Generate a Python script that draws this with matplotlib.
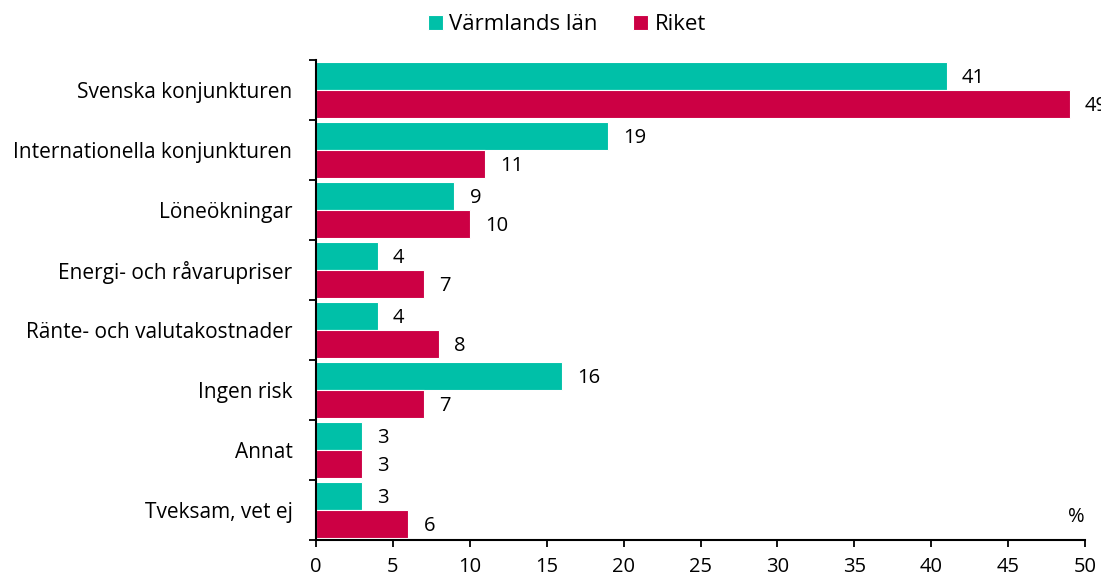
import matplotlib.pyplot as plt
import numpy as np

plt.rcParams['font.family'] = ['Open Sans', 'DejaVu Sans']

categories = ['Svenska konjunkturen', 'Internationella konjunkturen', 'Löneökningar',
              'Energi- och råvarupriser', 'Ränte- och valutakostnader', 'Ingen risk',
              'Annat', 'Tveksam, vet ej']
varmland = [41, 19, 9, 4, 4, 16, 3, 3]
riket = [49, 11, 10, 7, 8, 7, 3, 6]

green = '#00C0A8'
red = '#CC0044'

fig = plt.figure(figsize=(11.01, 5.81), dpi=100)
ax = fig.add_axes([316 / 1101, 41 / 581, 769 / 1101, 480 / 581])

y = np.arange(len(categories))
h = 0.467
ax.barh(y - h / 2, varmland, height=h, color=green, edgecolor='white', linewidth=0.8,
        label='Värmlands län')
ax.barh(y + h / 2, riket, height=h, color=red, edgecolor='white', linewidth=0.8,
        label='Riket')

for i in range(len(categories)):
    ax.text(varmland[i] + 1.0, y[i] - h / 2 + 0.03, str(varmland[i]), va='center', ha='left',
            fontsize=14.5, clip_on=False)
    ax.text(riket[i] + 1.0, y[i] + h / 2 + 0.03, str(riket[i]), va='center', ha='left',
            fontsize=14.5, clip_on=False)

ax.set_xlim(0, 50)
ax.set_ylim(len(categories) - 0.5, -0.5)
ax.set_xticks(range(0, 51, 5))
ax.set_yticks(y)
ax.set_yticklabels(categories, fontsize=15)
ax.set_yticks(np.arange(-0.5, len(categories), 1), minor=True)
ax.tick_params(axis='y', which='major', length=0, pad=17)
ax.tick_params(axis='y', which='minor', length=5, width=1.3, direction='out')
ax.tick_params(axis='x', length=5, width=1.3, direction='out', labelsize=14.5, pad=7)

for s in ['top', 'right']:
    ax.spines[s].set_visible(False)
for s in ['left', 'bottom']:
    ax.spines[s].set_linewidth(1.5)

ax.text(50, 7.12, '%', ha='right', va='center', fontsize=14.5)

fig.legend(loc='upper center', bbox_to_anchor=(0.515, 1.01), ncol=2, frameon=False,
           fontsize=16, handlelength=0.65, handleheight=0.65, handletextpad=0.3,
           columnspacing=1.6)

fig.savefig('out.png', dpi=100)
